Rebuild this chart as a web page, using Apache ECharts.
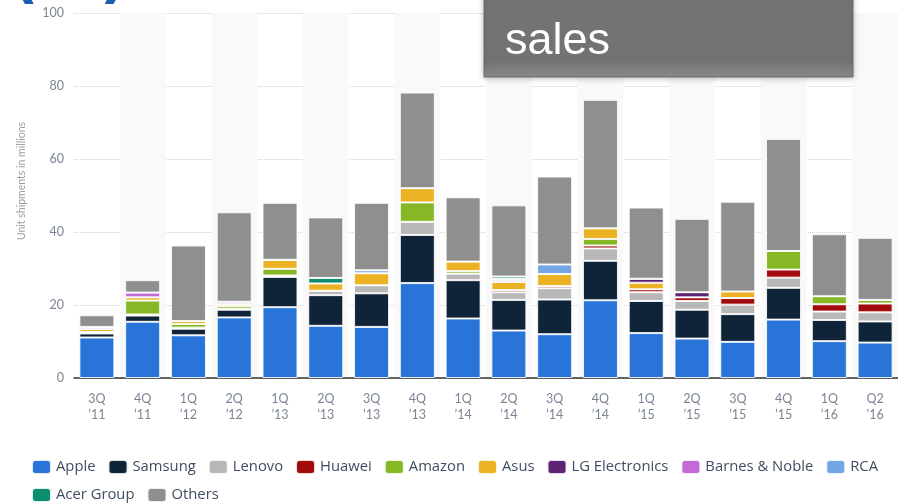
<!DOCTYPE html>
<html>
<head>
<meta charset="utf-8">
<script src="https://cdn.jsdelivr.net/npm/echarts@6/dist/echarts.min.js"></script>
<style>
  html, body { margin: 0; padding: 0; background: #fff; }
  #myChart { width: 898px; height: 503px; }
</style>
</head>
<body>
<div id="myChart"></div>
<script>
// quarters on the x axis
var quarters = ["3Q\n\u201911", "4Q\n\u201911", "1Q\n\u201912", "2Q\n\u201912", "1Q\n\u201913", "2Q\n\u201913",
    "3Q\n\u201913", "4Q\n\u201913", "1Q\n\u201914", "2Q\n\u201914", "3Q\n\u201914", "4Q\n\u201914",
    "1Q\n\u201915", "2Q\n\u201915", "3Q\n\u201915", "4Q\n\u201915", "1Q\n\u201916", "Q2\n\u201916"];

var yTicks = [0, 20, 40, 60, 80, 100];

// unit shipments in millions
var apple     = [11.1, 15.4, 11.7, 16.6, 19.4, 14.3, 14.0, 26.0, 16.3, 13.0, 12.0, 21.3, 12.3, 10.8,  9.9, 16.0, 10.1,  9.7];
var samsung   = [ 1.1,  1.7,  1.8,  2.1,  8.3,  8.4,  9.2, 13.2, 10.5,  8.4,  9.5, 10.8,  8.8,  7.9,  7.6,  8.7,  5.8,  5.8];
var lenovo    = [ 0.4,  0.3,  0.3,  0.3,  0.4,  1.2,  2.2,  3.6,  1.8,  2.1,  3.1,  3.4,  2.4,  2.4,  2.6,  2.8,  2.3,  2.5];
var huawei    = [   0,    0,    0,    0,    0,    0,    0,    0,    0,  0.6,  0.6,  0.8,  0.8,  1.0,  1.8,  2.2,  2.0,  2.4];
var amazon    = [   0,  3.8,  1.0,  0.7,  1.8,    0,    0,  5.3,  0.7,    0,    0,  1.8,    0,    0,    0,  5.1,  2.2,  1.0];
var asus      = [ 0.8,  0.9,  0.8,  0.6,  2.5,  2.0,  3.3,  3.9,  2.6,  2.2,  3.3,  2.9,  1.8,    0,  1.8,    0,    0,    0];
var lg        = [   0,    0,    0,    0,    0,    0,    0,    0,    0,  0.5,    0,    0,  1.1,  1.4,    0,    0,    0,    0];
var barnes    = [ 0.6,  1.3,    0,  0.6,    0,    0,    0,    0,    0,  0.4,    0,    0,    0,    0,    0,    0,    0,    0];
var rca       = [   0,    0,    0,    0,    0,    0,  0.8,    0,    0,    0,  2.6,    0,    0,    0,    0,    0,    0,    0];
var acer      = [   0,    0,    0,    0,    0,  1.5,    0,    0,    0,  0.6,    0,    0,    0,    0,    0,    0,    0,    0];
var others    = [ 3.2,  3.4, 20.7, 24.5, 15.6, 16.6, 18.5, 26.2, 17.6, 19.5, 24.1, 35.2, 19.5, 20.1, 24.6, 30.7, 17.0, 17.0];

var names  = ['Apple', 'Samsung', 'Lenovo', 'Huawei', 'Amazon', 'Asus', 'LG Electronics', 'Barnes & Noble', 'RCA', 'Acer Group', 'Others'];
var values = [apple, samsung, lenovo, huawei, amazon, asus, lg, barnes, rca, acer, others];
var colors = ['#2874d9', '#0f2339', '#b8b8b8', '#a10b0b', '#86b825', '#ebb324', '#5b2372', '#c26ad8', '#74a6e3', '#0d8e70', '#8f8f8f'];

var series = [];
for (var i in names) {
    series.push({
        name: names[i],
        type: 'bar',
        stack: 'total',
        barWidth: 35,
        data: values[i],
        itemStyle: { color: colors[i], borderColor: 'rgba(255,255,255,0.85)', borderWidth: 1 }
    });
}

var myChart = echarts.init(document.getElementById('myChart'), null, {renderer: 'canvas'});

myChart.setOption({
    animation: false,
    color: colors,
    grid: { left: 74, top: 13, width: 828, bottom: 125, containLabel: false },
    legend: {
        left: 26, top: 454, width: 872,
        itemWidth: 19, itemHeight: 14, itemGap: 12,
        icon: 'roundRect',
        textStyle: { fontFamily: 'Open Sans', fontSize: 14.8, color: '#3f4d63' },
        data: names
    },
    xAxis: {
        type: 'category',
        data: quarters,
        axisLine: { lineStyle: { color: '#333', width: 1.5 } },
        axisTick: { show: false },
        axisLabel: { fontFamily: 'Lato', fontSize: 12.5, color: '#7c8594', lineHeight: 16, margin: 13 },
        splitArea: { show: true, areaStyle: { color: ['rgba(255,255,255,0)', '#f9f9f9'] } }
    },
    yAxis: {
        type: 'value',
        min: 0, max: 100, interval: 20,
        axisLabel: { fontFamily: 'Lato', fontSize: 12.5, color: '#7c8594', margin: 10 },
        splitLine: { lineStyle: { color: '#d0d0d0', type: 'dotted' } }
    },
    series: series,
    graphic: [
        {
            type: 'text', x: 22, y: 181, rotation: Math.PI / 2,
            style: { text: 'Unit shipments in millions', fontFamily: 'Lato', fontSize: 10.5, fill: '#9a9fa8', align: 'center', verticalAlign: 'middle' }
        },
        {
            type: 'rect', z: 100,
            shape: { x: 484, y: -4, width: 369, height: 81 },
            style: {
                fill: new echarts.graphic.LinearGradient(0, 0, 0, 1, [
                    { offset: 0, color: '#747474' }, { offset: 0.8, color: '#727272' }, { offset: 1, color: '#8c8c8c' }
                ]),
                stroke: '#6a6a6a', lineWidth: 1,
                shadowBlur: 6, shadowColor: 'rgba(0,0,0,0.25)', shadowOffsetY: 1
            }
        },
        {
            type: 'text', z: 101, x: 505, y: 42,
            style: { text: 'sales', fontFamily: 'Liberation Sans', fontSize: 45, fill: '#ffffff', verticalAlign: 'middle' }
        },
        {
            type: 'text', z: 101, x: 11, y: 10,
            style: { text: '(', fontFamily: 'DejaVu Sans', fontSize: 60, fontWeight: 'bold', fill: '#1c5fb0', verticalAlign: 'bottom' }
        },
        {
            type: 'text', z: 101, x: 100, y: 10,
            style: { text: ')', fontFamily: 'DejaVu Sans', fontSize: 60, fontWeight: 'bold', fill: '#1c5fb0', verticalAlign: 'bottom' }
        }
    ]
});
</script>
</body>
</html>
